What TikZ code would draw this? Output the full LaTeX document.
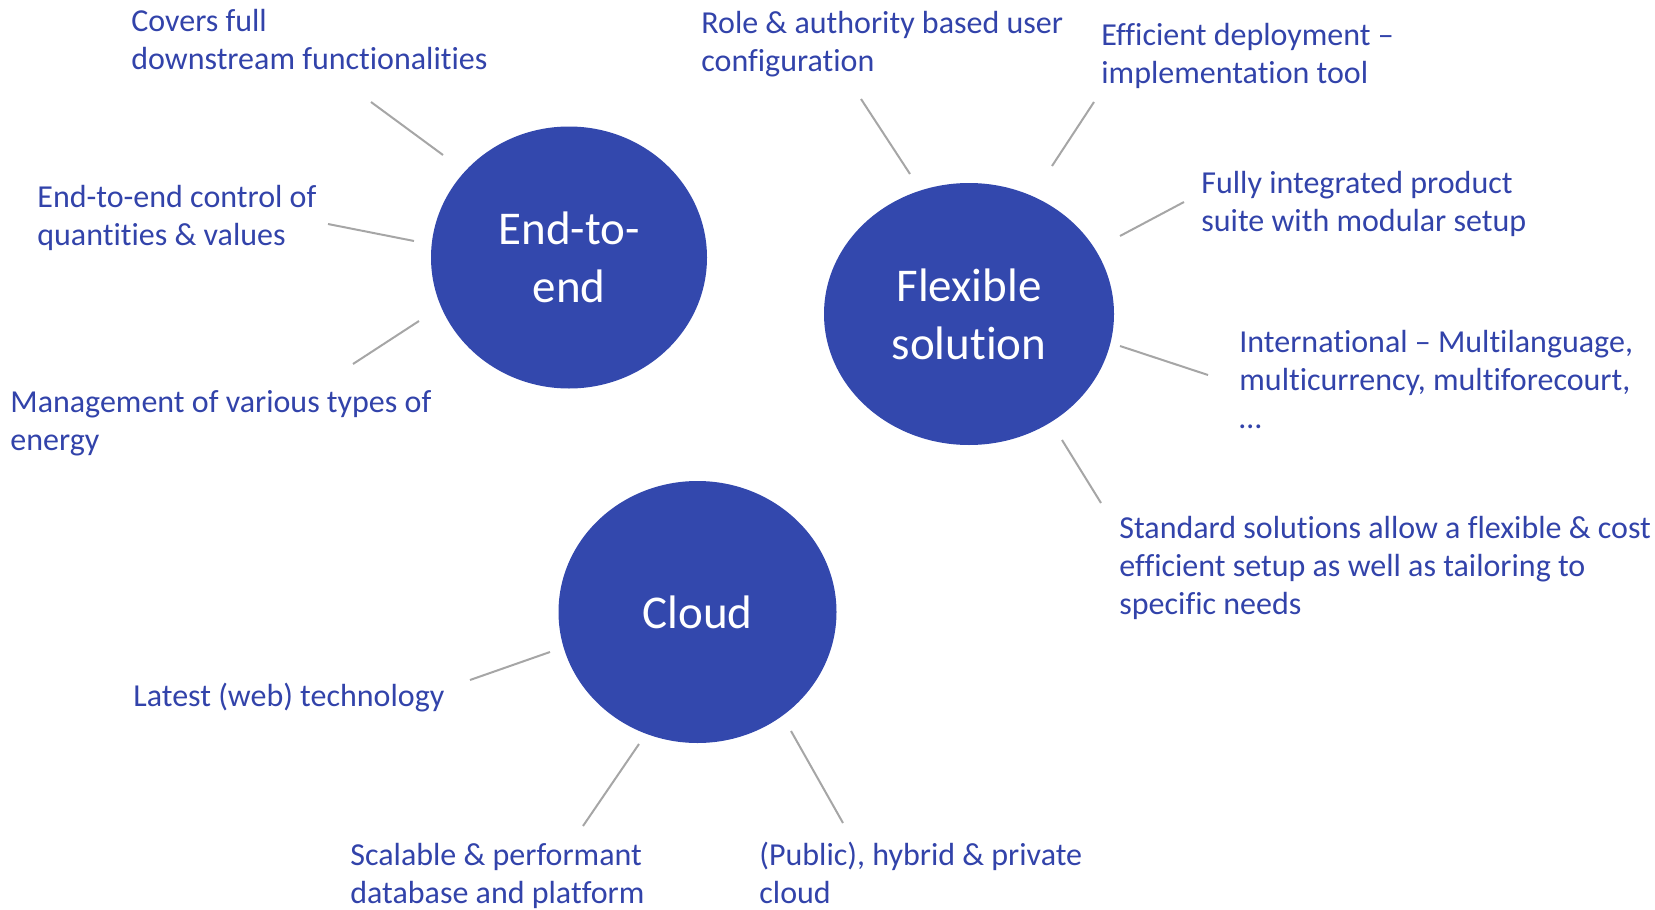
\documentclass[tikz,border=0pt]{standalone}
\usepackage{fontspec}
\setmainfont{Carlito}[Ligatures=NoCommon]
\usetikzlibrary{shapes.geometric}
\definecolor{circblue}{HTML}{3348AD}
\definecolor{txtblue}{HTML}{3243AA}
\definecolor{linegray}{HTML}{A6A6A6}
\newcommand\mlines[1]{\vtop{\baselineskip=19.1pt\halign{##\hfil\cr #1\crcr}}}
\tikzset{
  bubble/.style={ellipse, fill=circblue, draw=none, inner sep=0pt, text=white,
    align=center, font=\fontsize{23.5}{29}\selectfont},
  txt/.style={anchor=base west, inner sep=0pt, text=txtblue, font=\fontsize{16}{19.1}\selectfont},
  spoke/.style={draw=linegray, line width=1pt}
}
\begin{document}
\begin{tikzpicture}[x=0.5pt,y=-0.5pt]
\useasboundingbox (0,0) rectangle (1655,910);
% circles
\node[bubble, minimum width=138pt, minimum height=131pt] (e2e) at (569,257.5) {End-to-\\end};
\node[bubble, minimum width=145pt, minimum height=131pt] (flex) at (969,314) {Flexible\\solution};
\node[bubble, minimum width=139pt, minimum height=131pt] (cloud) at (697.5,612) {Cloud};
% texts
\node[txt] (t1) at (131,31.7) {\mlines{Covers full\cr downstream functionalities}};
\node[txt] (t2) at (37,207) {\mlines{End-to-end control of\cr quantities \& values}};
\node[txt] (t3) at (10,412) {\mlines{Management of various types of\cr energy}};
\node[txt] (t4) at (701,33) {\mlines{Role \& authority based user\cr configuration}};
\node[txt] (t5) at (1101,45) {\mlines{Efficient deployment –\cr implementation tool}};
\node[txt] (t6) at (1201,193) {\mlines{Fully integrated product\cr suite with modular setup}};
\node[txt] (t7) at (1239,352) {\mlines{International – Multilanguage,\cr multicurrency, multiforecourt,\cr …}};
\node[txt] (t8) at (1119,538) {\mlines{Standard solutions allow a flexible \& cost\cr efficient setup as well as tailoring to\cr specific needs}};
\node[txt] (t9) at (133,706) {\mlines{Latest (web) technology}};
\node[txt] (t10) at (350,865) {\mlines{Scalable \& performant\cr database and platform}};
\node[txt] (t11) at (759,865) {\mlines{(Public), hybrid \& private\cr cloud}};
% spoke end points
\coordinate (a1) at (371,102);  \coordinate (b1) at (443,155);
\coordinate (a2) at (328,224);  \coordinate (b2) at (414,241);
\coordinate (a3) at (353,364);  \coordinate (b3) at (419,321);
\coordinate (a4) at (861,99);   \coordinate (b4) at (910,174);
\coordinate (a5) at (1094,102); \coordinate (b5) at (1052,166);
\coordinate (a6) at (1184,202); \coordinate (b6) at (1120,236);
\coordinate (a7) at (1208,375); \coordinate (b7) at (1120,346);
\coordinate (a8) at (1101,503); \coordinate (b8) at (1062,440);
\coordinate (a9) at (470,680);  \coordinate (b9) at (550,652);
\coordinate (a10) at (583,826); \coordinate (b10) at (639,744);
\coordinate (a11) at (843,823); \coordinate (b11) at (791,731);
\foreach \i in {1,...,11} { \draw[spoke] (a\i) -- (b\i); }
\end{tikzpicture}
\end{document}
